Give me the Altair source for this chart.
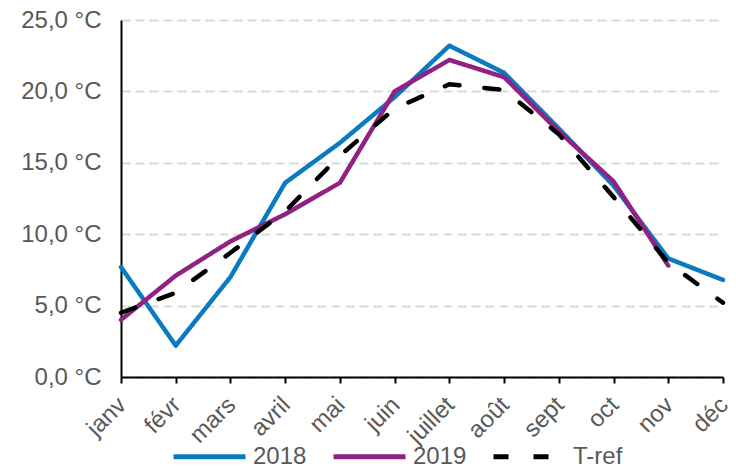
import altair as alt
import pandas as pd

months = ["janv", "févr", "mars", "avril", "mai", "juin", "juillet", "août", "sept", "oct", "nov", "déc"]
t2018 = [7.7, 2.2, 7.0, 13.6, 16.4, 19.6, 23.2, 21.3, 17.4, 13.4, 8.3, 6.8]
t2019 = [4.0, 7.1, 9.5, 11.4, 13.6, 20.0, 22.2, 21.0, 17.2, 13.7, 7.8, None]
tref = [4.5, 5.9, 8.7, 11.6, 15.5, 18.8, 20.5, 20.1, 17.0, 12.6, 8.0, 5.2]

series_names = ["2018", "2019", "T-ref"]
series_colors = ["#0B7BC1", "#8F2282", "#000000"]

rows = []
for name, vals in zip(series_names, [t2018, t2019, tref]):
    for i, (m, v) in enumerate(zip(months, vals)):
        if v is not None:
            rows.append({"mois": m, "temp": v, "serie": name, "order": i})
df = pd.DataFrame(rows)

grey = "#595959"
font = "Liberation Sans"

chart = alt.Chart(df).mark_line(strokeWidth=4.5, strokeCap="round", strokeJoin="round").encode(
    x=alt.X("mois:N", sort=months, scale=alt.Scale(type="point", padding=0),
            axis=alt.Axis(title=None, labelAngle=-45, labelAlign="right", labelBaseline="middle",
                          labelFontSize=24, labelColor=grey, labelFont=font, labelPadding=18,
                          labelOffset=1,
                          domainColor="black", domainWidth=2, tickColor="black", tickWidth=2,
                          tickSize=6, grid=False)),
    y=alt.Y("temp:Q", scale=alt.Scale(domain=[0, 25], nice=False),
            axis=alt.Axis(title=None, values=[0, 5, 10, 15, 20, 25],
                          labelExpr="replace(format(datum.value, '.1f'), '.', ',') + ' °C'",
                          labelFontSize=24, labelColor=grey, labelFont=font, labelPadding=20,
                          ticks=False, domainColor="black", domainWidth=2,
                          grid=True, gridColor="#D9D9D9", gridWidth=2, gridDash=[9, 5])),
    color=alt.Color("serie:N", scale=alt.Scale(domain=series_names, range=series_colors),
                    legend=alt.Legend(title=None, orient="none", direction="horizontal",
                                      legendX=50, legendY=398, symbolType="stroke",
                                      symbolSize=5184, symbolStrokeWidth=5,
                                      labelFontSize=24, labelColor=grey, labelFont=font,
                                      labelOffset=5, columnPadding=16)),
    strokeDash=alt.StrokeDash("serie:N", scale=alt.Scale(domain=series_names,
                                                          range=[[1, 0], [1, 0], [15, 25]]),
                              legend=None),
    order="order:Q",
).properties(
    width=602, height=357,
    autosize=alt.AutoSizeParams(type="none"),
    padding={"left": 113, "top": 12, "right": 5, "bottom": 90},
).configure_view(stroke=None)

chart.save("out.html", embed_options={"renderer": "svg", "actions": False})
